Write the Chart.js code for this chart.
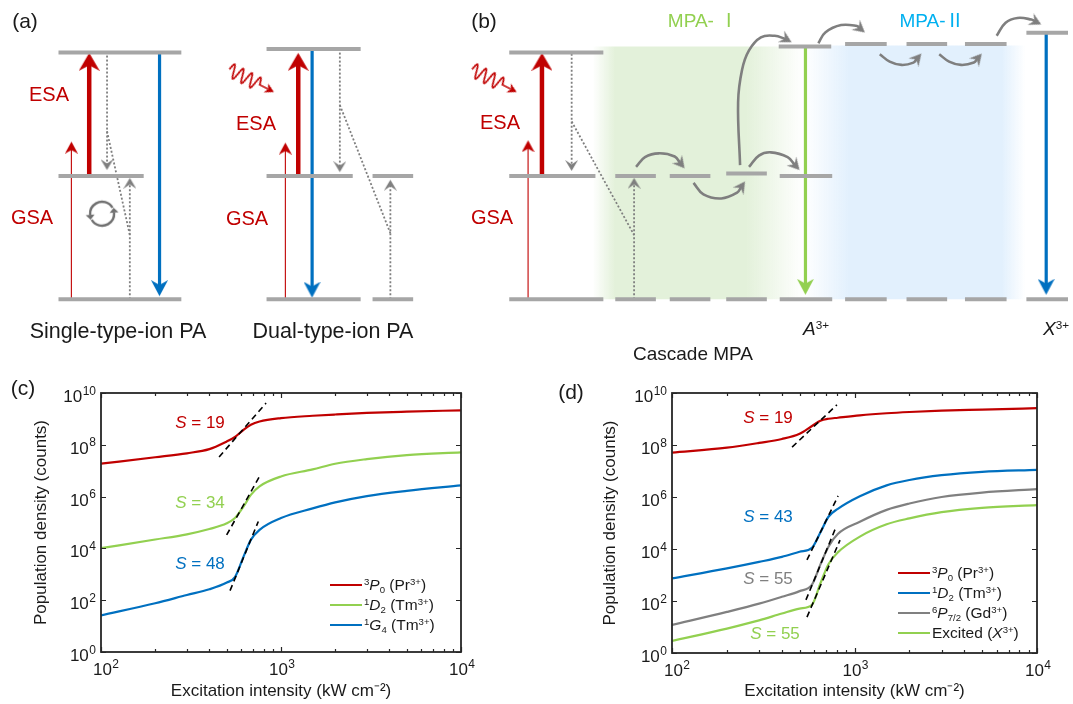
<!DOCTYPE html>
<html>
<head>
<meta charset="utf-8">
<title>Photon avalanche and cascade MPA</title>
<script src="https://cdn.jsdelivr.net/npm/chart.js@4.4.1/dist/chart.umd.min.js"></script>
<style>
  body { margin: 0; background: #fff; }
  #page { position: relative; width: 1073px; height: 704px; overflow: hidden;
          font-family: "Liberation Sans", Arial, "Noto Sans CJK SC", sans-serif; color: #1a1a1a; }
  canvas { position: absolute; }
  .t { position: absolute; white-space: nowrap; transform: translate(-50%, -50%); line-height: 1; }
  .leg { position: absolute; white-space: nowrap; font-size: 15.5px; line-height: 1; transform: translateY(-50%); }
  .sw { position: absolute; width: 32px; height: 0; border-top: 2.5px solid; transform: translateY(-50%); }
  sup, sub { font-size: 0.62em; line-height: 0; position: relative; vertical-align: baseline; }
  sup { top: -0.55em; }
  sub { top: 0.3em; }
  .red { color: #C00000; }
</style>
</head>
<body>
<div id="page">
  <canvas id="diagram" width="1073" height="345" style="left:0;top:0"></canvas>
  <canvas id="plotC" width="540" height="359" style="left:0;top:345px"></canvas>
  <canvas id="plotD" width="533" height="359" style="left:540px;top:345px"></canvas>

  <div class="t" style="left:25px;top:20px;font-size:21px">(a)</div>
  <div class="t" style="left:484px;top:20px;font-size:21px">(b)</div>
  <div class="t red" style="left:49px;top:94px;font-size:20px">ESA</div>
  <div class="t red" style="left:32px;top:217px;font-size:20px">GSA</div>
  <div class="t red" style="left:256px;top:123px;font-size:20px">ESA</div>
  <div class="t red" style="left:247px;top:218px;font-size:20px">GSA</div>
  <div class="t red" style="left:500px;top:122px;font-size:20px">ESA</div>
  <div class="t red" style="left:492px;top:217px;font-size:20px">GSA</div>
  <div class="t" style="left:118px;top:332px;font-size:21.5px">Single-type-ion PA</div>
  <div class="t" style="left:333px;top:332px;font-size:21.5px">Dual-type-ion PA</div>
  <div class="t" style="left:703px;top:20px;font-size:19px;color:#92D050">MPA- Ⅰ</div>
  <div class="t" style="left:932px;top:20px;font-size:19px;color:#00B0F0">MPA-Ⅱ</div>
  <div class="t" style="left:816px;top:328px;font-size:19px"><i>A</i><sup>3+</sup></div>
  <div class="t" style="left:1056px;top:328px;font-size:19px"><i>X</i><sup>3+</sup></div>
  <div class="t" style="left:693px;top:353px;font-size:19px">Cascade MPA</div>

  <div class="t" style="left:23px;top:387px;font-size:21px">(c)</div>
  <div class="t" style="left:571px;top:391px;font-size:21px">(d)</div>

  <div class="t" style="left:200px;top:422px;font-size:17px;color:#C00000"><i>S</i> = 19</div>
  <div class="t" style="left:200px;top:502px;font-size:17px;color:#92D050"><i>S</i> = 34</div>
  <div class="t" style="left:200px;top:563px;font-size:17px;color:#0070C0"><i>S</i> = 48</div>
  <div class="t" style="left:768px;top:417px;font-size:17px;color:#C00000"><i>S</i> = 19</div>
  <div class="t" style="left:768px;top:516px;font-size:17px;color:#0070C0"><i>S</i> = 43</div>
  <div class="t" style="left:768px;top:578px;font-size:17px;color:#808080"><i>S</i> = 55</div>
  <div class="t" style="left:775px;top:633px;font-size:17px;color:#92D050"><i>S</i> = 55</div>

  <div class="sw" style="left:330px;top:585px;border-color:#C00000"></div>
  <div class="leg" style="left:364px;top:585px"><sup>3</sup><i>P</i><sub>0</sub> (Pr<sup>3+</sup>)</div>
  <div class="sw" style="left:330px;top:605px;border-color:#92D050"></div>
  <div class="leg" style="left:364px;top:605px"><sup>1</sup><i>D</i><sub>2</sub> (Tm<sup>3+</sup>)</div>
  <div class="sw" style="left:330px;top:625px;border-color:#0070C0"></div>
  <div class="leg" style="left:364px;top:625px"><sup>1</sup><i>G</i><sub>4</sub> (Tm<sup>3+</sup>)</div>

  <div class="sw" style="left:898px;top:573px;border-color:#C00000"></div>
  <div class="leg" style="left:932px;top:573px"><sup>3</sup><i>P</i><sub>0</sub> (Pr<sup>3+</sup>)</div>
  <div class="sw" style="left:898px;top:593px;border-color:#0070C0"></div>
  <div class="leg" style="left:932px;top:593px"><sup>1</sup><i>D</i><sub>2</sub> (Tm<sup>3+</sup>)</div>
  <div class="sw" style="left:898px;top:613px;border-color:#808080"></div>
  <div class="leg" style="left:932px;top:613px"><sup>6</sup><i>P</i><sub>7/2</sub> (Gd<sup>3+</sup>)</div>
  <div class="sw" style="left:898px;top:633px;border-color:#92D050"></div>
  <div class="leg" style="left:932px;top:633px">Excited (<i>X</i><sup>3+</sup>)</div>
</div>

<script>
// --- kleuren ---
const RED = '#C00000', BLUE = '#0070C0', GREEN = '#92D050', GREY = '#808080', LEVEL = '#A6A6A6';

// --- panel (c): population vs excitation intensity ---
const intensityC = [100, 200, 300, 400, 500, 555, 620, 680, 760, 1000, 1500, 2000, 3000, 5000, 10000];
const pr3P0_C = [1.86e7, 3.3e7, 4.7e7, 6.8e7, 1.35e8, 2.0e8, 3.8e8, 5.9e8, 7.9e8, 1.07e9, 1.32e9, 1.48e9, 1.7e9, 1.9e9, 2.14e9];
const tm1D2_C = [1.02e4, 2.2e4, 3.5e4, 5.6e4, 9.3e4, 1.48e5, 4.2e5, 1.17e6, 2.5e6, 6.0e6, 1.12e7, 1.86e7, 2.8e7, 4.0e7, 5.1e7];
const tm1G4_C = [26, 76, 158, 263, 479, 776, 4.9e3, 2.14e4, 5.2e4, 1.48e5, 3.5e5, 6.0e5, 1.05e6, 1.66e6, 2.7e6];
// slope guides: [x1, y1, x2, y2]
const slopeC = [[453, 3.4e7, 826, 4.1e9], [499, 3.3e4, 774, 7.6e6], [521, 234, 748, 1.1e5]];

// --- panel (d) ---
const intensityD = [100, 200, 300, 400, 500, 585, 650, 720, 810, 1070, 1500, 2000, 3000, 5000, 10000];
const pr3P0_D = [5.1e7, 7.9e7, 1.2e8, 1.7e8, 2.7e8, 5.4e8, 8.5e8, 1.02e9, 1.12e9, 1.38e9, 1.66e9, 1.86e9, 2.1e9, 2.3e9, 2.6e9];
const tm1D2_D = [740, 1.8e3, 3.2e3, 5.0e3, 7.8e3, 1.12e4, 4.3e4, 1.74e5, 3.5e5, 1.07e6, 2.8e6, 4.5e6, 6.9e6, 9.3e6, 1.1e7];
const gd6P_D = [12, 38, 79, 145, 240, 430, 2.5e3, 1.23e4, 3.8e4, 1.12e5, 3.2e5, 5.6e5, 1.0e6, 1.48e6, 2.0e6];
const x3Exc_D = [2.9, 8.7, 18, 33, 51, 72, 470, 2.6e3, 7.4e3, 3.0e4, 8.9e4, 1.5e5, 2.6e5, 3.8e5, 4.9e5];
const slopeD = [[455, 8.3e7, 801, 3.5e9], [549, 3.8e3, 813, 1.1e6], [542, 110, 793, 7.1e4], [549, 24, 833, 2.2e4]];

// --- axes: tick values and labels ([base, exponent]) ---
const xTicks = [100, 200, 300, 400, 500, 600, 700, 800, 900, 1000, 2000, 3000, 4000, 5000, 6000, 7000, 8000, 9000, 10000];
const xTickLabels = [['10', '2'], null, null, null, null, null, null, null, null, ['10', '3'],
                     null, null, null, null, null, null, null, null, ['10', '4']];
const yTicks = [1, 1e2, 1e4, 1e6, 1e8, 1e10];
const yTickLabels = [['10', '0'], ['10', '2'], ['10', '4'], ['10', '6'], ['10', '8'], ['10', '10']];

// --- schematic (a), (b): x in figure units, y in energy units (ground 0, intermediate 1, upper 2) ---
const levelBars = [
  [54, 178, 0], [54, 140, 1], [54, 178, 2],
  [264, 359, 0], [371, 412, 0], [264, 351, 1], [371, 412, 1], [264, 359, 2.03],
  [509, 604, 0], [509, 596, 1], [509, 604, 2],
  [616, 657, 0], [671, 712, 0], [728, 769, 0], [782, 835, 0], [848, 890, 0], [910, 951, 0], [969, 1011, 0], [1031, 1073, 0],
  [616, 657, 1], [671, 712, 1], [728, 769, 1.02], [782, 835, 1],
  [781, 834, 2.05], [848, 890, 2.07], [910, 951, 2.07], [969, 1011, 2.07], [1031, 1073, 2.16]
];
const gsaArrows = [[67, 0, 1.278], [283, 0, 1.27], [528, 0, 1.289]];
const esaArrows = [[85, 1, 1.998], [296, 1, 1.998], [542, 1, 1.998]];
const blueEmission = [[156, 2, 0.024], [310, 2.03, 0.012], [1051, 2.16, 0.035]];
const greenEmission = [[808, 2.05, 0.035]];
const relaxDown = [[103, 1.976, 1.047], [338, 2.0, 1.03], [572, 1.99, 1.04]];
const crossLinks = [[103, 1.362, 126, 0.52], [338, 1.575, 389, 0.535], [572, 1.441, 635, 0.52]];
const relaxUp = [[126, 0, 0.984], [389, 0, 0.969], [635, 0, 0.984]];
const migrationCurves = [
  [[637, 1.073], [646, 1.152], [660, 1.183], [676, 1.157], [686, 1.061]],
  [[695, 0.943], [705, 0.850], [723, 0.817], [739, 0.864], [747, 0.955]],
  [[751, 1.073], [761, 1.165], [773, 1.191], [790, 1.152], [802, 1.047]],
  [[742, 1.087], [740, 1.598], [744, 1.861], [751, 2.018], [763, 2.124], [777, 2.136], [788, 2.110], [794, 2.084]],
  [[821, 2.076], [828, 2.163], [844, 2.223], [860, 2.215], [868, 2.163]],
  [[883, 1.987], [893, 1.927], [905, 1.900], [917, 1.919], [925, 1.992]],
  [[943, 1.987], [953, 1.927], [965, 1.900], [978, 1.919], [986, 1.992]],
  [[1001, 2.136], [1010, 2.242], [1022, 2.281], [1036, 2.268], [1046, 2.228]]
];
const photonMarks = [[249, 1.772], [494, 1.772]];
const cycleMarks = [[98, 0.693]];
// shaded bands: [fade-in start, full, full end, fade-out end, top energy]
const mpa1Band = [593, 616, 748, 806, 2.05];
const mpa2Band = [806, 852, 1006, 1030, 2.058];

const E_MIN = -0.331, E_MAX = 2.386, DIAG_W = 1073, DIAG_H = 345;
const PX_PER_E = DIAG_H / (E_MAX - E_MIN);

// --- pijlpunten als pointStyle ---
function makeHead(color, w, h, notch) {
  const c = document.createElement('canvas');
  c.width = w; c.height = 2 * h;
  const g = c.getContext('2d');
  g.fillStyle = color;
  g.beginPath();
  g.moveTo(w / 2, h);
  g.lineTo(w, 2 * h);
  g.lineTo(w / 2, 2 * h - notch * h);
  g.lineTo(0, 2 * h);
  g.closePath();
  g.fill();
  return { img: c, back: h * (1 - notch) - 1 };
}

function makePhoton(color) {
  const c = document.createElement('canvas');
  c.width = 56; c.height = 24;
  const g = c.getContext('2d');
  g.strokeStyle = color; g.fillStyle = color; g.lineWidth = 1.7;
  g.beginPath();
  for (let t = 0; t <= 34; t += 0.5) {
    const px = 3 + t, py = 12 - 7 * Math.sin(t / 34 * 3.5 * 2 * Math.PI);
    if (t === 0) g.moveTo(px, py); else g.lineTo(px, py);
  }
  g.lineTo(46, 12);
  g.stroke();
  g.beginPath(); g.moveTo(53, 12); g.lineTo(44, 7); g.lineTo(46.5, 12); g.lineTo(44, 17); g.closePath(); g.fill();
  return c;
}

function makeCycle(color) {
  const c = document.createElement('canvas');
  c.width = 36; c.height = 36;
  const g = c.getContext('2d');
  const cx = 18, cy = 18, r = 12, d = Math.PI / 180;
  g.strokeStyle = color; g.fillStyle = color; g.lineWidth = 2.4;
  [[330, 175], [150, -5]].forEach(([a0, a1]) => {
    g.beginPath(); g.arc(cx, cy, r, a0 * d, a1 * d, true); g.stroke();
    const ex = cx + r * Math.cos(a1 * d), ey = cy + r * Math.sin(a1 * d);
    const tx = Math.sin(a1 * d), ty = -Math.cos(a1 * d);
    const nx = -ty, ny = tx;
    g.beginPath();
    g.moveTo(ex + tx * 5, ey + ty * 5);
    g.lineTo(ex + nx * 4.5, ey + ny * 4.5);
    g.lineTo(ex - nx * 4.5, ey - ny * 4.5);
    g.closePath(); g.fill();
  });
  return c;
}

const headThin = makeHead(RED, 13, 12, 0.3);
const headThick = makeHead(RED, 21, 18, 0.3);
const headBlue = makeHead(BLUE, 17, 16, 0.3);
const headGreen = makeHead(GREEN, 17, 16, 0.3);
const headDot = makeHead('#7F7F7F', 13, 11, 0.4);
const headCurve = makeHead('#7F7F7F', 13, 12, 0.35);

function arrow(points, color, width, head, dash) {
  const n = points.length;
  const a = points[n - 2], b = points[n - 1];
  const dx = b[0] - a[0], dyPx = (b[1] - a[1]) * PX_PER_E;
  const len = Math.hypot(dx, dyPx);
  const end = [b[0] - dx / len * head.back, b[1] - dyPx / len * head.back / PX_PER_E];
  const linePts = points.slice(0, n - 1).concat([end]).map(p => ({ x: p[0], y: p[1] }));
  return [
    { type: 'line', data: linePts, borderColor: color, borderWidth: width, borderDash: dash || [],
      tension: n > 2 ? 0.4 : 0, pointRadius: 0, fill: false },
    { type: 'scatter', data: [{ x: b[0], y: b[1] }], pointStyle: head.img, pointRadius: 1,
      pointRotation: Math.atan2(dx, dyPx) * 180 / Math.PI }
  ];
}

function band(spec, rgb) {
  const [x0, x1, x2, x3, top] = spec;
  return {
    type: 'line', order: 10, data: [{ x: x0, y: top }, { x: x3, y: top }],
    borderWidth: 0, borderColor: 'transparent', pointRadius: 0, fill: { value: 0 },
    backgroundColor: (ctx) => {
      const chart = ctx.chart;
      if (!chart.chartArea) return 'transparent';
      const xs = chart.scales.x;
      const g = chart.ctx.createLinearGradient(xs.getPixelForValue(x0), 0, xs.getPixelForValue(x3), 0);
      g.addColorStop(0, `rgba(${rgb},0)`);
      g.addColorStop((x1 - x0) / (x3 - x0), `rgba(${rgb},1)`);
      g.addColorStop((x2 - x0) / (x3 - x0), `rgba(${rgb},1)`);
      g.addColorStop(1, `rgba(${rgb},0)`);
      return g;
    }
  };
}

const diagSets = [];
diagSets.push(band(mpa1Band, '227,241,218'));
diagSets.push(band(mpa2Band, '226,240,253'));
levelBars.forEach(([x1, x2, e]) => diagSets.push({
  type: 'line', data: [{ x: x1, y: e }, { x: x2, y: e }], borderColor: LEVEL, borderWidth: 4, pointRadius: 0
}));
crossLinks.forEach(([x1, e1, x2, e2]) => diagSets.push({
  type: 'line', data: [{ x: x1, y: e1 }, { x: x2, y: e2 }], borderColor: '#7F7F7F', borderWidth: 1.8,
  borderDash: [2, 2], pointRadius: 0
}));
relaxDown.forEach(([x, e0, e1]) => diagSets.push(...arrow([[x, e0], [x, e1]], '#7F7F7F', 1.8, headDot, [2, 2])));
relaxUp.forEach(([x, e0, e1]) => diagSets.push(...arrow([[x, e0], [x, e1]], '#7F7F7F', 1.8, headDot, [2, 2])));
gsaArrows.forEach(([x, e0, e1]) => diagSets.push(...arrow([[x, e0], [x, e1]], RED, 1.1, headThin)));
esaArrows.forEach(([x, e0, e1]) => diagSets.push(...arrow([[x, e0], [x, e1]], RED, 4.5, headThick)));
blueEmission.forEach(([x, e0, e1]) => diagSets.push(...arrow([[x, e0], [x, e1]], BLUE, 3.2, headBlue)));
greenEmission.forEach(([x, e0, e1]) => diagSets.push(...arrow([[x, e0], [x, e1]], GREEN, 3.2, headGreen)));
migrationCurves.forEach(pts => diagSets.push(...arrow(pts, '#7F7F7F', 2.6, headCurve)));
diagSets.push({ type: 'scatter', data: photonMarks.map(([x, y]) => ({ x, y })), pointStyle: makePhoton(RED),
  pointRadius: 1, pointRotation: 27 });
diagSets.push({ type: 'scatter', data: cycleMarks.map(([x, y]) => ({ x, y })), pointStyle: makeCycle('#6F6F6F'),
  pointRadius: 1 });

new Chart(document.getElementById('diagram'), {
  type: 'line',
  data: { datasets: diagSets },
  options: {
    responsive: false, animation: false, events: [],
    layout: { padding: 0 },
    plugins: { legend: { display: false }, tooltip: { enabled: false } },
    scales: {
      x: { type: 'linear', min: 0, max: DIAG_W, display: false },
      y: { type: 'linear', min: E_MIN, max: E_MAX, display: false }
    }
  }
});

// --- log-log panels ---
const FONT = '"Liberation Sans", Arial, sans-serif';
Chart.defaults.font.family = FONT;
Chart.defaults.color = '#1a1a1a';

// power-of-ten label with a real superscript
function drawPow(ctx, label, x, y, align) {
  const [base, exp] = label;
  ctx.font = `17px ${FONT}`;
  const wb = ctx.measureText(base).width;
  ctx.font = `12px ${FONT}`;
  const we = ctx.measureText(exp).width;
  const total = wb + we + 0.5;
  const x0 = align === 'right' ? x - total : x - total / 2;
  ctx.font = `17px ${FONT}`;
  ctx.fillText(base, x0, y);
  ctx.font = `12px ${FONT}`;
  ctx.fillText(exp, x0 + wb + 0.5, y - 7.5);
}

const framePlugin = {
  id: 'frame',
  afterDatasetsDraw(chart) {
    const { ctx, chartArea: a, scales: { x, y } } = chart;
    ctx.save();
    ctx.strokeStyle = '#262626';
    ctx.lineWidth = 1.2;
    ctx.beginPath();
    xTicks.forEach((v, i) => {
      const p = Math.round(x.getPixelForValue(v)) + 0.5;
      const len = xTickLabels[i] ? 5 : 3;
      ctx.moveTo(p, a.bottom); ctx.lineTo(p, a.bottom - len);
      ctx.moveTo(p, a.top); ctx.lineTo(p, a.top + len);
    });
    yTicks.forEach(v => {
      const p = Math.round(y.getPixelForValue(v)) + 0.5;
      ctx.moveTo(a.left, p); ctx.lineTo(a.left + 5, p);
      ctx.moveTo(a.right, p); ctx.lineTo(a.right - 5, p);
    });
    ctx.stroke();
    ctx.lineWidth = 1.8;
    ctx.strokeRect(a.left, a.top, a.width, a.height);

    ctx.fillStyle = '#1a1a1a';
    ctx.textBaseline = 'alphabetic';
    xTicks.forEach((v, i) => {
      if (xTickLabels[i]) drawPow(ctx, xTickLabels[i], x.getPixelForValue(v) + (i === 0 ? 5 : 1), a.bottom + 23, 'center');
    });
    yTicks.forEach((v, i) => drawPow(ctx, yTickLabels[i], a.left - 5, y.getPixelForValue(v) + 9, 'right'));
    ctx.restore();
  }
};

function drawPlot(id, xs, series, slopes, box) {
  const datasets = [];
  slopes.forEach(s => datasets.push({
    data: [{ x: s[0], y: s[1] }, { x: s[2], y: s[3] }],
    borderColor: '#000', borderWidth: 1.6, borderDash: [6, 4], pointRadius: 0
  }));
  series.forEach(s => datasets.push({
    label: s.name, data: xs.map((x, i) => ({ x, y: s.values[i] })),
    borderColor: s.color, borderWidth: 2.2, pointRadius: 0, cubicInterpolationMode: 'monotone'
  }));
  new Chart(document.getElementById(id), {
    type: 'line',
    data: { datasets },
    options: {
      responsive: false, animation: false, events: [],
      layout: { padding: { left: 0, top: 48, right: box.right, bottom: 0 } },
      plugins: { legend: { display: false }, tooltip: { enabled: false } },
      scales: {
        x: {
          type: 'logarithmic', min: 100, max: 10000,
          grid: { display: false, drawTicks: false }, border: { display: false },
          afterBuildTicks: s => { s.ticks = xTicks.map(v => ({ value: v })); },
          afterFit: s => { s.height = box.xHeight; },
          ticks: { display: false },
          title: { display: true, text: 'Excitation intensity (kW cm⁻²)', font: { size: 17 },
                   padding: { top: 0, bottom: 2 } }
        },
        y: {
          type: 'logarithmic', min: 1, max: 1e10,
          grid: { display: false, drawTicks: false }, border: { display: false },
          afterBuildTicks: s => { s.ticks = yTicks.map(v => ({ value: v })); },
          afterFit: s => { s.width = box.yWidth; },
          ticks: { display: false },
          title: { display: true, text: 'Population density (counts)', font: { size: 17 },
                   padding: { top: box.titlePad, bottom: 0 } }
        }
      }
    },
    plugins: [framePlugin]
  });
}

drawPlot('plotC', intensityC, [
  { name: '3P0 (Pr3+)', values: pr3P0_C, color: RED },
  { name: '1D2 (Tm3+)', values: tm1D2_C, color: GREEN },
  { name: '1G4 (Tm3+)', values: tm1G4_C, color: BLUE }
], slopeC, { right: 79, xHeight: 52, yWidth: 101, titlePad: 31 });

drawPlot('plotD', intensityD, [
  { name: '3P0 (Pr3+)', values: pr3P0_D, color: RED },
  { name: '1D2 (Tm3+)', values: tm1D2_D, color: BLUE },
  { name: '6P7/2 (Gd3+)', values: gd6P_D, color: GREY },
  { name: 'Excited (X3+)', values: x3Exc_D, color: GREEN }
], slopeD, { right: 36, xHeight: 51, yWidth: 132, titlePad: 60 });
</script>
</body>
</html>
